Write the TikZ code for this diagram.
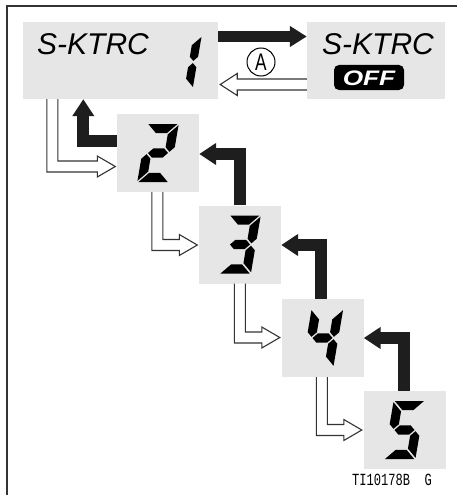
\documentclass[tikz,border=0pt]{standalone}
\usepackage{fontspec}
\setmainfont{Liberation Sans}
\newfontfamily\monofont{Liberation Mono}
\usetikzlibrary{calc,arrows.meta}
% seven-segment pieces (local coordinates, y downwards)
\newcommand{\sgA}{\fill (-14.6,-29) -- (14.6,-29) -- (5.4,-19.8) -- (-5.4,-19.8) -- cycle;}
\newcommand{\sgD}{\fill (-14.6,29) -- (14.6,29) -- (5.4,19.8) -- (-5.4,19.8) -- cycle;}
\newcommand{\sgB}{\fill (15.8,-27.8) -- (15.8,-5.8) -- (11.2,-1.2) -- (6.6,-5.8) -- (6.6,-18.6) -- cycle;}
\newcommand{\sgC}{\fill (15.8,27.8) -- (15.8,5.8) -- (11.2,1.2) -- (6.6,5.8) -- (6.6,18.6) -- cycle;}
\newcommand{\sgF}{\fill (-15.8,-27.8) -- (-15.8,-5.8) -- (-11.2,-1.2) -- (-6.6,-5.8) -- (-6.6,-18.6) -- cycle;}
\newcommand{\sgE}{\fill (-15.8,27.8) -- (-15.8,5.8) -- (-11.2,1.2) -- (-6.6,5.8) -- (-6.6,18.6) -- cycle;}
\newcommand{\sgG}{\fill (-10,0) -- (-5.4,-4.6) -- (5.4,-4.6) -- (10,0) -- (5.4,4.6) -- (-5.4,4.6) -- cycle;}
\definecolor{boxgray}{HTML}{E6E6E6}
\definecolor{arrowblack}{HTML}{1E1E1E}
\definecolor{outline}{HTML}{333333}
\begin{document}
\begin{tikzpicture}[x=1pt,y=-1pt,
  gbox/.style={fill=boxgray,draw=none,inner sep=0pt,minimum width=82pt,minimum height=78pt},
  lcdtext/.style={inner sep=0pt,anchor=base west,font=\fontsize{30}{30}\selectfont\itshape},
  blk/.style={draw=arrowblack,line width=12pt,-{Triangle[width=21pt,length=17pt]}},
  hollow/.style={draw=outline,fill=white,line width=1.1pt,line join=miter},
  digit/.style={xslant=0.17}]
\useasboundingbox (0,0) rectangle (457,495);
% frame
\draw[draw=outline,line width=2pt] (7,495) -- (7,6) -- (457,6);
% boxes
\node[gbox,minimum width=195pt,minimum height=77pt] (b1) at (120.5,60.5) {};
\node[gbox,minimum width=138pt,minimum height=77pt] (boff) at (376,60.5) {};
\node[gbox] (b2) at (158,153) {};
\node[gbox] (b3) at (240,244.5) {};
\node[gbox] (b4) at (322.5,338) {};
\node[gbox] (b5) at (404.5,430) {};
% texts
\node[lcdtext] (t1) at (37,55) {S-KTRC};
\node[lcdtext] (t2) at (322,55) {S-KTRC};
\node[fill=black,rounded corners=5pt,minimum width=70pt,minimum height=25pt,inner sep=0pt,
  text=white,text height=15pt,text depth=0pt,font=\fontsize{21}{21}\selectfont\bfseries\itshape]
  (off) at (369,77.5) {\scalebox{1.25}[1]{OFF}};
\node[draw=black,circle,line width=1pt,minimum size=28pt,inner sep=0pt,
  font=\fontsize{24}{24}\selectfont] (ca) at (261,62) {\scalebox{0.72}[1]{A}};
\node[inner sep=0pt,anchor=base west,font=\monofont\fontsize{17}{17}\selectfont] (code) at (352,485)
  {\scalebox{0.71}[1]{TI10178B\ \ G}};
% digits
\begin{scope}[fill=black,shift={(183,62)},digit,scale=0.9] \sgB \sgC \end{scope}
\begin{scope}[fill=black,shift={(b2.center)},digit] \sgA \sgB \sgG \sgE \sgD \end{scope}
\begin{scope}[fill=black,shift={(b3.center)},digit] \sgA \sgB \sgG \sgC \sgD \end{scope}
\begin{scope}[fill=black,shift={(b4.center)},digit] \sgF \sgB \sgG \sgC \end{scope}
\begin{scope}[fill=black,shift={(b5.center)},digit] \sgA \sgF \sgG \sgC \sgD \end{scope}
% black return arrows
\draw[draw=arrowblack,line width=11pt,-{Triangle[width=20pt,length=17pt]}]
  ($(b1.east)+(0,-24)$) -- ($(boff.west)+(0,-24)$);
\draw[blk] ($(b2.west)+(0,-12)$) -| ($(b1.south west)+(60.5,0)$);
\draw[blk] ($(b3.north west)+(41,0)$) |- ($(b2.east)+(0,1)$);
\draw[blk] ($(b4.north west)+(39.5,0)$) |- ($(b3.east)+(0,0.5)$);
\draw[blk] ($(b5.north west)+(41,0)$) |- (b4.east);
% hollow arrows
\coordinate (hs0) at ($(boff.west)+(0,24)$);
\coordinate (ht0) at ($(b1.east)+(2,24)$);
\draw[hollow] ($(hs0)+(0,-5.5)$) -- ($(ht0)+(17,-5.5)$) -- ++(0,-5.5) -- (ht0) -- ++(17,11) -- ++(0,-5.5) -- ($(hs0)+(0,5.5)$);
\coordinate (hs1) at ($(b1.south west)+(29.5,0)$);
\coordinate (ht1) at ($(b2.west)+(-1.5,13.5)$);
\coordinate (hs2) at ($(b2.south west)+(40.5,0)$);
\coordinate (ht2) at ($(b3.west)+(-1.5,0.5)$);
\coordinate (hs3) at ($(b3.south west)+(41,0)$);
\coordinate (ht3) at ($(b4.west)+(-1.5,-0.5)$);
\coordinate (hs4) at ($(b4.south west)+(40.5,0)$);
\coordinate (ht4) at ($(b5.west)+(-1.5,0)$);
\foreach \i in {1,2,3,4}{
  \draw[hollow] ($(hs\i)+(-5.5,0)$) |- ($(ht\i)+(-18,5.5)$) -- ++(0,5) -- (ht\i) -- ++(-18,-10.5) -- ++(0,5) -| ($(hs\i)+(5.5,0)$);
}
\end{tikzpicture}
\end{document}
